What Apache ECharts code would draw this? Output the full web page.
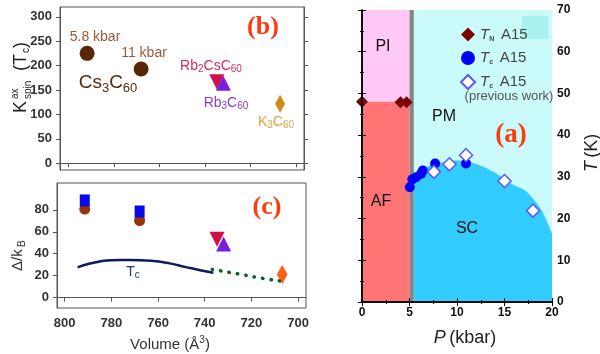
<!DOCTYPE html>
<html>
<head>
<meta charset="utf-8">
<script src="https://cdn.jsdelivr.net/npm/echarts@6/dist/echarts.min.js"></script>
<style>
html,body{margin:0;padding:0;background:#fff}
#main{width:600px;height:354px}
</style>
</head>
<body>
<div id="main"></div>
<script>
// ---- panel (b): K_spin^ax(Tc) vs volume
var kspinCs3 = [[791.7, 225], [768, 193]]
var kspinRb2Cs = [[734.8, 167]]
var kspinRb3 = [[731.9, 164]]
var kspinK3 = [[707, 121.5]]

// ---- panel (c): gap vs volume
var gapCsSquare = [[791.4, 88.6], [767.9, 78.5]]
var gapCsCircle = [[791.4, 80.7], [767.9, 70.3]]
var gapRb2Cs = [[734.7, 53.2]]
var gapRb3 = [[731.9, 48.9]]
var gapK3 = [[706.8, 21.1]]
var tcSolid = [[794.5, 27.5], [790, 30.6], [785, 33], [780, 34.1], [772, 34.2], [763, 33.5], [755, 31.2], [748, 27.8], [742, 25], [736.3, 22.6]]
var tcDotted = [[736.8, 25.7], [724.4, 21.1], [716.6, 18], [707.9, 15.2]]
var volTicks = [700, 720, 740, 760, 780, 800]
var kTicks = [0, 50, 100, 150, 200, 250, 300]
var gapTicks = [0, 20, 40, 60, 80]

// ---- panel (a): phase diagram
var tnA15 = [[0, 48], [4.05, 47.9], [4.69, 47.9]]
var tcA15 = [[5.03, 27.5], [5.3, 29.4], [5.7, 29.9], [6.2, 30.7], [6.4, 31.5], [7.7, 33.2], [10.95, 33.2]]
var tcPrev = [[7.57, 31.2], [9.2, 33], [10.95, 35.2], [15, 29], [18, 21.9]]
var scDome = [[5.45, 29.8], [6, 31.3], [7, 32.6], [8, 33.3], [9, 33.7], [10, 33.9], [11, 33.7], [12, 33.1], [13, 32.2], [14, 31], [15, 29.5], [16, 28], [17, 27], [18, 24.8], [19, 21.6], [20, 16.5]]
var afTop = 48 // T_N boundary (K)
var grayBand = [5, 5.45] // kbar
var pMax = 20, tMax = 70

var fontS = 'Liberation Sans'
var axisLblB = {color: '#333', fontSize: 13, fontFamily: fontS, fontWeight: 'bold'}
var axisLblA = {color: '#111', fontSize: 12, fontFamily: fontS, fontWeight: 'bold'}

function txt(x, y, text, font, fill, extra){
	var s = {text: text, font: font, fill: fill, align: 'center', verticalAlign: 'middle'}
	if(extra) for(var k in extra) s[k] = extra[k]
	return {type: 'text', x: x, y: y, z: 100, style: s}
}
function chem(color, size){ // rich styles: base + subscript
	return {
		b: {fontSize: size, fontFamily: fontS, fill: color},
		s: {fontSize: Math.round(size*0.68), fontFamily: fontS, fill: color, padding: [Math.round(size*0.5), 0, 0, 0]}
	}
}

var option = {
	animation: false,
	grid: [
		{left: 60, top: 7, width: 244, height: 163, show: true, borderColor: '#555', borderWidth: 1},
		{left: 57, top: 183, width: 249, height: 125, show: true, borderColor: '#555', borderWidth: 1},
		{left: 362, top: 10, width: 190, height: 292, show: false}
	],
	xAxis: [
		{gridIndex: 0, type: 'value', min: 696.5, max: 803.6, inverse: true,
			axisLine: {lineStyle: {color: '#555'}}, splitLine: {show: false},
			axisTick: {customValues: volTicks, length: 4, lineStyle: {color: '#555'}},
			axisLabel: {show: false}},
		{gridIndex: 1, type: 'value', min: 696.6, max: 803.3, inverse: true,
			axisLine: {lineStyle: {color: '#555'}}, splitLine: {show: false},
			axisTick: {customValues: volTicks, length: 4, lineStyle: {color: '#555'}},
			axisLabel: Object.assign({customValues: volTicks, margin: 9}, axisLblB)},
		{gridIndex: 2, type: 'value', min: 0, max: pMax, interval: 5, z: 10,
			axisLine: {lineStyle: {color: '#000', width: 1.5}}, splitLine: {show: false},
			axisTick: {inside: true, length: 4, lineStyle: {color: '#000'}},
			minorTick: {show: true, splitNumber: 2, length: 2, lineStyle: {color: '#000'}},
			axisLabel: Object.assign({margin: 5}, axisLblA)},
		{gridIndex: 2, type: 'value', position: 'top', min: 0, max: pMax, interval: 5, z: 10,
			axisLine: {lineStyle: {color: '#000', width: 1.5}}, splitLine: {show: false},
			axisTick: {inside: true, length: 4, lineStyle: {color: '#000'}},
			minorTick: {show: true, splitNumber: 2, length: 2, lineStyle: {color: '#000'}},
			axisLabel: {show: false}}
	],
	yAxis: [
		{gridIndex: 0, type: 'value', min: -14, max: 320,
			axisLine: {show: true, lineStyle: {color: '#555'}}, splitLine: {show: false},
			axisTick: {show: true, customValues: kTicks, length: 4, lineStyle: {color: '#555'}},
			axisLabel: Object.assign({customValues: kTicks, margin: 8}, axisLblB)},
		{gridIndex: 0, type: 'value', position: 'right', min: -14, max: 320,
			axisLine: {show: true, lineStyle: {color: '#555'}}, splitLine: {show: false},
			axisTick: {show: true, customValues: kTicks, length: 4, lineStyle: {color: '#555'}},
			axisLabel: {show: false}},
		{gridIndex: 1, type: 'value', min: -9.5, max: 104.5,
			axisLine: {show: true, lineStyle: {color: '#555'}}, splitLine: {show: false},
			axisTick: {show: true, customValues: gapTicks, length: 4, lineStyle: {color: '#555'}},
			axisLabel: Object.assign({customValues: gapTicks, margin: 8}, axisLblB)},
		{gridIndex: 2, type: 'value', position: 'right', min: 0, max: tMax, interval: 10, z: 10,
			axisLine: {show: true, lineStyle: {color: '#000', width: 1.5}}, splitLine: {show: false},
			axisTick: {show: true, inside: true, length: 4, lineStyle: {color: '#000'}},
			minorTick: {show: true, splitNumber: 2, length: 2, lineStyle: {color: '#000'}},
			axisLabel: Object.assign({margin: 5}, axisLblA)},
		{gridIndex: 2, type: 'value', position: 'left', min: 0, max: tMax, interval: 10, z: 10,
			axisLine: {show: true, lineStyle: {color: '#000', width: 1.5}}, splitLine: {show: false},
			axisTick: {show: true, inside: true, length: 4, lineStyle: {color: '#000'}},
			minorTick: {show: true, splitNumber: 2, length: 2, lineStyle: {color: '#000'}},
			axisLabel: {show: false}}
	],
	legend: {
		orient: 'vertical', left: 455, top: 22, itemGap: 8, itemWidth: 14, itemHeight: 14,
		data: ['TN', 'Tc', 'TcPrev'],
		formatter: function(name){
			if(name === 'TN') return '{i|T}{s|N}  {t|A15}'
			return '{i|T}{s|c}  {t|A15}'
		},
		textStyle: {
			rich: {
				i: {fontSize: 15, fontStyle: 'italic', fontFamily: fontS, color: '#444'},
				s: {fontSize: 7, fontWeight: 'bold', fontFamily: fontS, color: '#444', padding: [9, 0, 0, 0]},
				t: {fontSize: 15, fontFamily: fontS, color: '#444'}
			}
		}
	},
	series: [
		// panel (a) background phases
		{type: 'line', xAxisIndex: 2, yAxisIndex: 3, data: [], z: 1, silent: true,
			markArea: {silent: true, data: [
				[{coord: [0, afTop], itemStyle: {color: '#ffc8f5'}}, {coord: [grayBand[0], tMax]}],
				[{coord: [0, 0], itemStyle: {color: '#ff7474'}}, {coord: [grayBand[0], afTop]}],
				[{coord: [grayBand[1], 0], itemStyle: {color: '#cbfafa'}}, {coord: [pMax, tMax]}]
			]}},
		{type: 'line', xAxisIndex: 2, yAxisIndex: 3, data: scDome, z: 2, silent: true,
			smooth: 0.3, symbol: 'none', lineStyle: {width: 0}, areaStyle: {color: '#33ccff', opacity: 1}},
		{type: 'line', xAxisIndex: 2, yAxisIndex: 3, data: [], z: 3, silent: true,
			markArea: {silent: true, data: [
				[{coord: [grayBand[0], 0], itemStyle: {color: '#858585'}}, {coord: [grayBand[1], tMax]}],
				[{coord: [16.83, 63.05], itemStyle: {color: '#aaf2f2'}}, {coord: [19.65, 68.6]}]
			]}},
		{name: 'TN', type: 'scatter', xAxisIndex: 2, yAxisIndex: 3, data: tnA15, z: 5,
			symbol: 'diamond', symbolSize: 12, itemStyle: {color: '#7a0505', opacity: 1}},
		{name: 'Tc', type: 'scatter', xAxisIndex: 2, yAxisIndex: 3, data: tcA15, z: 5,
			symbol: 'circle', symbolSize: 10, itemStyle: {color: '#0000ff', opacity: 1}},
		{name: 'TcPrev', type: 'scatter', xAxisIndex: 2, yAxisIndex: 3, data: tcPrev, z: 5,
			symbol: 'diamond', symbolSize: 13, itemStyle: {color: '#ffffff', borderColor: '#5a5aff', borderWidth: 1.5, opacity: 1}},

		// panel (b)
		{type: 'scatter', xAxisIndex: 0, yAxisIndex: 0, data: kspinCs3, symbolSize: 15, itemStyle: {color: '#5a2508', opacity: 1}},
		{type: 'scatter', xAxisIndex: 0, yAxisIndex: 0, data: kspinRb2Cs, symbol: 'triangle', symbolRotate: 180, symbolSize: 15, itemStyle: {color: '#d0104a', opacity: 1}},
		{type: 'scatter', xAxisIndex: 0, yAxisIndex: 0, data: kspinRb3, symbol: 'triangle', symbolSize: 15, itemStyle: {color: '#7a1ee0', opacity: 1}},
		{type: 'scatter', xAxisIndex: 0, yAxisIndex: 0, data: kspinK3, symbol: 'diamond', symbolSize: [10, 18], itemStyle: {color: '#d08c14', opacity: 1}},

		// panel (c)
		{type: 'line', xAxisIndex: 1, yAxisIndex: 2, data: tcSolid, smooth: true, symbol: 'none',
			lineStyle: {color: '#0d1a5e', width: 2.5}},
		{type: 'line', xAxisIndex: 1, yAxisIndex: 2, data: tcDotted, smooth: true, symbol: 'none',
			lineStyle: {color: '#0b5e2e', width: 3.5, type: [0.5, 8], cap: 'round'}},
		{type: 'scatter', xAxisIndex: 1, yAxisIndex: 2, data: gapCsCircle, symbolSize: 11, itemStyle: {color: '#983208', opacity: 1}},
		{type: 'scatter', xAxisIndex: 1, yAxisIndex: 2, data: gapCsSquare, symbol: 'rect', symbolSize: [10, 12], z: 3, itemStyle: {color: '#0a0ae6', opacity: 1}},
		{type: 'scatter', xAxisIndex: 1, yAxisIndex: 2, data: gapRb2Cs, symbol: 'triangle', symbolRotate: 180, symbolSize: 15, itemStyle: {color: '#d0104a', opacity: 1}},
		{type: 'scatter', xAxisIndex: 1, yAxisIndex: 2, data: gapRb3, symbol: 'triangle', symbolSize: 15, itemStyle: {color: '#7a1ee0', opacity: 1}},
		{type: 'scatter', xAxisIndex: 1, yAxisIndex: 2, data: gapK3, symbol: 'diamond', symbolSize: [11, 19], itemStyle: {color: '#ff6414', opacity: 1}}
	],
	graphic: [
		// panel labels
		txt(263, 27, '(b)', 'bold 26px Liberation Serif', '#ff3a10'),
		txt(267, 207, '(c)', 'bold 26px Liberation Serif', '#ff3a10'),
		txt(511, 135, '(a)', 'bold 27px Liberation Serif', '#ff3a10'),
		// panel (b) annotations
		txt(95, 37, '5.8 kbar', '14px ' + fontS, '#9a5a38'),
		txt(144, 53, '11 kbar', '14px ' + fontS, '#9a5a38'),
		txt(108, 83, '{b|Cs}{s|3}{b|C}{s|60}', '', '#5a2a10', {rich: chem('#5a2a10', 19)}),
		txt(211, 66, '{b|Rb}{s|2}{b|CsC}{s|60}', '', '#d02a66', {rich: chem('#d02a66', 14)}),
		txt(226, 103, '{b|Rb}{s|3}{b|C}{s|60}', '', '#8a3ad0', {rich: chem('#8a3ad0', 14)}),
		txt(276, 122, '{b|K}{s|3}{b|C}{s|60}', '', '#e0a040', {rich: chem('#e0a040', 14)}),
		// panel (b) y title
		{type: 'group', x: 21, y: 113, rotation: Math.PI / 2, children: [
			{type: 'text', x: 0, y: 0, style: {text: 'K', font: '18px ' + fontS, fill: '#222', verticalAlign: 'middle'}},
			{type: 'text', x: 14, y: -6, style: {text: 'ax', font: '10px ' + fontS, fill: '#222', verticalAlign: 'middle'}},
			{type: 'text', x: 14, y: 7, style: {text: 'spin', font: '10px ' + fontS, fill: '#222', verticalAlign: 'middle'}},
			{type: 'text', x: 42, y: 0, style: {text: '(T', font: '18px ' + fontS, fill: '#222', verticalAlign: 'middle'}},
			{type: 'text', x: 60, y: 5, style: {text: 'c', font: '10px ' + fontS, fill: '#222', verticalAlign: 'middle'}},
			{type: 'text', x: 65, y: 0, style: {text: ')', font: '18px ' + fontS, fill: '#222', verticalAlign: 'middle'}}
		]},
		// panel (c) texts
		txt(133, 272, '{b|T}{s|c}', '', '#1a3a6a', {rich: chem('#1a3a6a', 14)}),
		{type: 'group', x: 18, y: 271, rotation: Math.PI / 2, children: [
			{type: 'text', x: 0, y: 0, style: {text: 'Δ/k', font: '15px ' + fontS, fill: '#333', verticalAlign: 'middle'}},
			{type: 'text', x: 24, y: 4, style: {text: 'B', font: '10px ' + fontS, fill: '#333', verticalAlign: 'middle'}}
		]},
		txt(170, 345, '{b|Volume (Å}{p|3}{b|)}', '', '#333', {rich: {
			b: {fontSize: 15, fontFamily: fontS, fill: '#333'},
			p: {fontSize: 10, fontFamily: fontS, fill: '#333', padding: [0, 0, 9, 0]}
		}}),
		// panel (a) texts
		txt(383, 47, 'PI', '16px ' + fontS, '#111'),
		txt(444, 117, 'PM', '16px ' + fontS, '#111'),
		txt(381, 202, 'AF', '16px ' + fontS, '#111'),
		txt(467, 229, 'SC', '16px ' + fontS, '#111'),
		txt(509, 96, '(previous work)', '13px ' + fontS, '#555'),
		txt(465, 338, '{i|P} {b|(kbar)}', '', '#222', {rich: {
			i: {fontSize: 18, fontStyle: 'italic', fontFamily: fontS, fill: '#222'},
			b: {fontSize: 18, fontFamily: fontS, fill: '#222'}
		}}),
		{type: 'group', x: 592, y: 172, rotation: Math.PI / 2, children: [
			{type: 'text', x: 0, y: 0, style: {text: '{i|T} {b|(K)}', verticalAlign: 'middle', rich: {
				i: {fontSize: 18, fontStyle: 'italic', fontFamily: fontS, fill: '#222'},
				b: {fontSize: 18, fontFamily: fontS, fill: '#222'}
			}}}
		]}
	]
}

var myChart = echarts.init(document.getElementById('main'))
myChart.setOption(option)
</script>
</body>
</html>
